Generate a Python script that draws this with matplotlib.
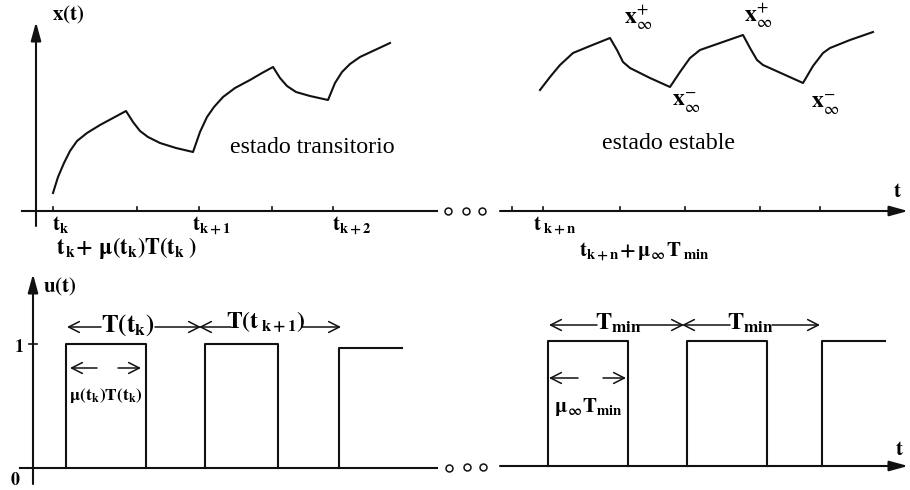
"""Estado transitorio y estado estable de x(t) bajo la entrada pulsada u(t)."""
import matplotlib.pyplot as plt

plt.rcParams['font.family'] = ['Liberation Serif', 'DejaVu Serif']
plt.rcParams['mathtext.fontset'] = 'stix'

# x(t), estado transitorio (vertices del trazo)
trans_x = [53, 58, 64, 70, 77, 87, 100, 113, 126, 133, 140, 148, 160, 176, 193,
           200, 207, 214, 223, 235, 250, 262, 273, 280, 287, 296, 310, 328,
           335, 342, 350, 360, 375, 390]
trans_y = [193, 177, 163, 151, 141, 133, 125, 118, 111, 122, 131, 137, 143, 148, 152,
           132, 117, 107, 97, 88, 80, 73, 67, 78, 86, 92, 96, 100,
           83, 72, 64, 57, 50, 43]

# x(t), estado estable
stab_x = [540, 550, 560, 573, 590, 610, 617, 623, 630, 650, 670,
          680, 690, 700, 720, 743, 750, 757, 763, 783, 803,
          813, 823, 830, 850, 873]
stab_y = [90, 77, 65, 53, 46, 38, 50, 62, 68, 78, 87,
          72, 58, 50, 43, 35, 48, 60, 65, 74, 83,
          66, 53, 48, 40, 32]

# u(t): flancos de subida y bajada de cada pulso
pulse_on_left = [66, 205, 339]
pulse_off_left = [146, 278, 402]
pulse_top_left = [344, 344, 348]
pulse_on_right = [548, 687, 822]
pulse_off_right = [628, 767, 885]
pulse_top_right = [341, 341, 341]

# marcas sobre los ejes de tiempo
ticks_top_left = [53, 137, 199, 272, 333]
ticks_top_right = [512, 543, 620, 685, 760, 820]

dots_top = [448, 466, 482]
dots_bottom = [449, 467, 483]

LW = 1.5
INK = '#111111'


def axis_arrow(ax, start, end, filled=True):
    style = '-|>,head_length=0.8,head_width=0.22' if filled else '->,head_length=0.55,head_width=0.28'
    ax.annotate('', xy=end, xytext=start,
                arrowprops=dict(arrowstyle=style, color=INK, lw=LW if filled else 1.1,
                                shrinkA=0, shrinkB=0, mutation_scale=14))


def pulses(ax, on, off, top, base, right_open=False):
    for i, (a, b, h) in enumerate(zip(on, off, top)):
        if right_open and i == len(on) - 1:
            ax.plot([a, a, b], [base, h, h], color=INK, lw=LW)
        else:
            ax.plot([a, a, b, b], [base, h, h, base], color=INK, lw=LW)


fig = plt.figure(figsize=(9.1, 4.9), dpi=100)
ax = fig.add_axes([0, 0, 1, 1])
ax.set_xlim(0, 910)
ax.set_ylim(490, 0)
ax.axis('off')

# ---- panel superior: x(t) ----
axis_arrow(ax, (36, 226), (36, 22))
ax.plot([22, 437], [211, 211], color=INK, lw=LW)
axis_arrow(ax, (500, 211), (908, 211))
for t in ticks_top_left:
    ax.plot([t, t], [211, 207], color=INK, lw=1.2)
for t in ticks_top_right:
    ax.plot([t, t], [211, 207], color=INK, lw=1.2)
ax.plot(dots_top, [211] * 3, 'o', ms=5, mfc='white', mec=INK, mew=1.1)

ax.plot(trans_x, trans_y, color=INK, lw=LW, solid_joinstyle='round')
ax.plot(stab_x, stab_y, color=INK, lw=LW, solid_joinstyle='round')

ax.text(52, 15, r'$\mathbf{x(t)}$', fontsize=15, va='center', ha='left')
ax.text(230, 147, 'estado transitorio', fontsize=17.2, va='center', ha='left')
ax.text(602, 143, 'estado estable', fontsize=17.2, va='center', ha='left')
ax.text(893, 192, r'$\mathbf{t}$', fontsize=15, va='center', ha='left')

ax.text(52, 224, r'$\mathbf{t_k}$', fontsize=15, va='center', ha='left')
ax.text(192, 226, r'$\mathbf{t_{k+1}}$', fontsize=15, va='center', ha='left')
ax.text(332, 226, r'$\mathbf{t_{k+2}}$', fontsize=15, va='center', ha='left')
ax.text(56, 248, r'$\mathbf{t_{\,k}\!+\,\mu(t_k)T(t_k\;)}$', fontsize=16, va='center', ha='left')
ax.text(533, 226, r'$\mathbf{t_{\;k+n}}$', fontsize=15, va='center', ha='left')
ax.text(579, 252, r'$\mathbf{t_{k+n}\!+\mu_{\infty}T_{\;min}}$', fontsize=15, va='center', ha='left')

ax.text(624, 18, r'$\mathbf{x}_{\infty}^{+}$', fontsize=17, va='center', ha='left')
ax.text(744, 16, r'$\mathbf{x}_{\infty}^{+}$', fontsize=17, va='center', ha='left')
ax.text(672, 103, r'$\mathbf{x}_{\infty}^{-}$', fontsize=17, va='center', ha='left')
ax.text(811, 105, r'$\mathbf{x}_{\infty}^{-}$', fontsize=17, va='center', ha='left')

# ---- panel inferior: u(t) ----
axis_arrow(ax, (33, 484), (33, 274))
ax.plot([20, 437], [468, 468], color=INK, lw=LW)
axis_arrow(ax, (500, 466), (908, 466))
ax.plot([29, 37], [344, 344], color=INK, lw=1.2)
ax.plot(dots_bottom[:1], [468], 'o', ms=5, mfc='white', mec=INK, mew=1.1)
ax.plot(dots_bottom[1:], [467, 467], 'o', ms=5, mfc='white', mec=INK, mew=1.1)

pulses(ax, pulse_on_left, pulse_off_left, pulse_top_left, 468, right_open=True)
pulses(ax, pulse_on_right, pulse_off_right, pulse_top_right, 466, right_open=True)

ax.text(43, 287, r'$\mathbf{u(t)}$', fontsize=15, va='center', ha='left')
ax.text(14, 347, r'$\mathbf{1}$', fontsize=13, va='center', ha='left')
ax.text(10, 480, r'$\mathbf{0}$', fontsize=13, va='center', ha='left')
ax.text(895, 450, r'$\mathbf{t}$', fontsize=15, va='center', ha='left')

# cotas de periodo
axis_arrow(ax, (101, 327), (67, 327), filled=False)
axis_arrow(ax, (155, 327), (201, 327), filled=False)
axis_arrow(ax, (231, 327), (199, 327), filled=False)
axis_arrow(ax, (302, 327), (341, 327), filled=False)
ax.text(128, 325, r'$\mathbf{T(t_k)}$', fontsize=18, va='center', ha='center')
ax.text(266, 322, r'$\mathbf{T(t_{\;k+1})}$', fontsize=17, va='center', ha='center')

axis_arrow(ax, (97, 368), (70, 368), filled=False)
axis_arrow(ax, (118, 368), (141, 368), filled=False)
ax.text(106, 395, r'$\mathbf{\mu(t_k)T(t_k)}$', fontsize=12.5, va='center', ha='center')

axis_arrow(ax, (597, 325), (549, 325), filled=False)
axis_arrow(ax, (639, 325), (684, 325), filled=False)
axis_arrow(ax, (730, 325), (682, 325), filled=False)
axis_arrow(ax, (772, 325), (820, 325), filled=False)
ax.text(618, 323, r'$\mathbf{T_{min}}$', fontsize=17.5, va='center', ha='center')
ax.text(750, 323, r'$\mathbf{T_{min}}$', fontsize=17.5, va='center', ha='center')

axis_arrow(ax, (578, 378), (549, 378), filled=False)
axis_arrow(ax, (603, 378), (626, 378), filled=False)
ax.text(588, 407, r'$\mathbf{\mu_{\infty}T_{min}}$', fontsize=15, va='center', ha='center')

fig.savefig('out.png', dpi=100, facecolor='white')
